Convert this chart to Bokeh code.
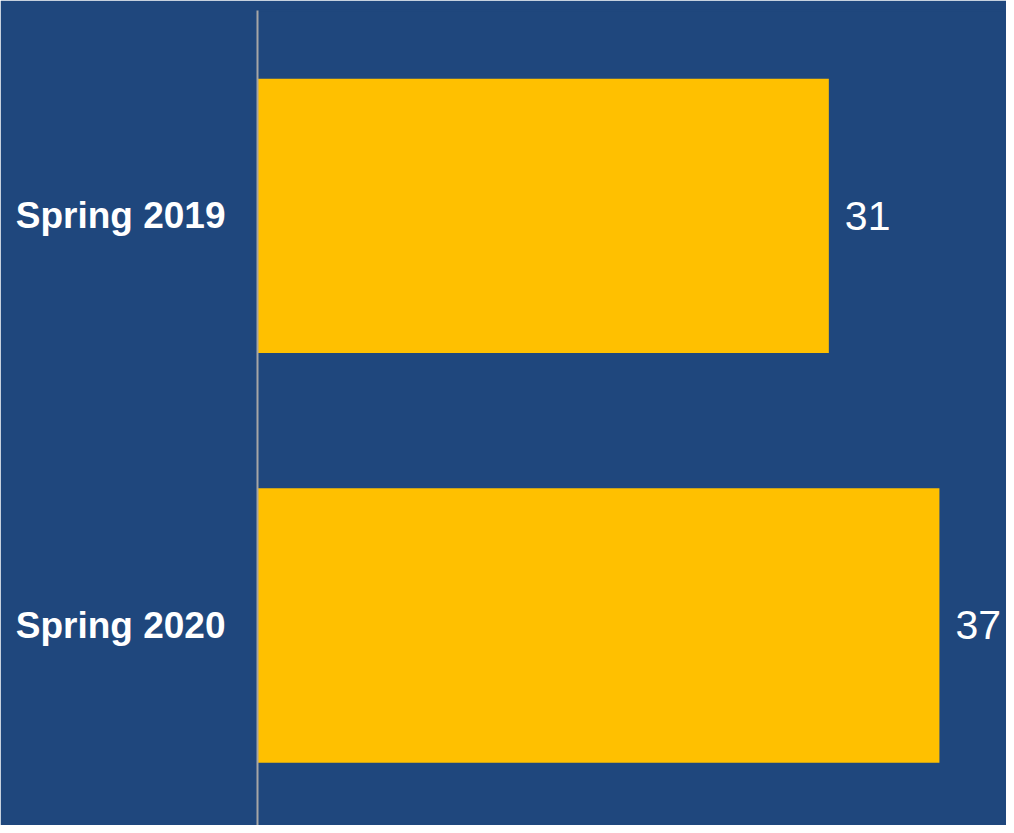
from bokeh.plotting import figure
from bokeh.models import Range1d, FixedTicker, ColumnDataSource
from bokeh.embed import file_html
from bokeh.resources import INLINE
from bokeh.core.properties import value

categories = ["Spring 2019", "Spring 2020"]
values = [31, 37]

BG = "#1F477D"
BAR = "#FFC000"

positions = list(range(len(categories)))
src = ColumnDataSource(dict(
    y=positions,
    v=values,
    lbl=[str(v) for v in values],
))

p = figure(width=1006, height=825, output_backend="svg", toolbar_location=None,
           x_range=Range1d(0, 40.64), y_range=Range1d(1.4885, -0.5015),
           min_border_left=257, min_border_right=0, min_border_top=10, min_border_bottom=0)
p.background_fill_color = BG
p.border_fill_color = BG
p.outline_line_color = BG
p.outline_line_width = 2
p.xgrid.visible = False
p.ygrid.visible = False
p.xaxis.visible = False

p.hbar(y="y", right="v", left=0, height=0.67, source=src,
       fill_color=BAR, line_color=None)

p.text(x="v", y="y", text="lbl", source=src, x_offset=16,
       text_align="left", text_baseline="middle",
       text_color="white", text_font=value("Liberation Sans"),
       text_font_size="41px")

ax = p.yaxis[0]
ax.ticker = FixedTicker(ticks=positions)
ax.major_label_overrides = {i: c for i, c in enumerate(categories)}
ax.major_label_text_font = "Liberation Sans"
ax.major_label_text_font_style = "bold"
ax.major_label_text_font_size = "37px"
ax.major_label_text_color = "white"
ax.major_label_standoff = 26
ax.major_tick_line_color = None
ax.minor_tick_line_color = None
ax.axis_line_color = "#A6A6A6"
ax.axis_line_width = 2

html = file_html(p, INLINE)
html = html.replace("<body>", '<body style="background:%s">' % BG, 1)
open("out.html", "w").write(html)
